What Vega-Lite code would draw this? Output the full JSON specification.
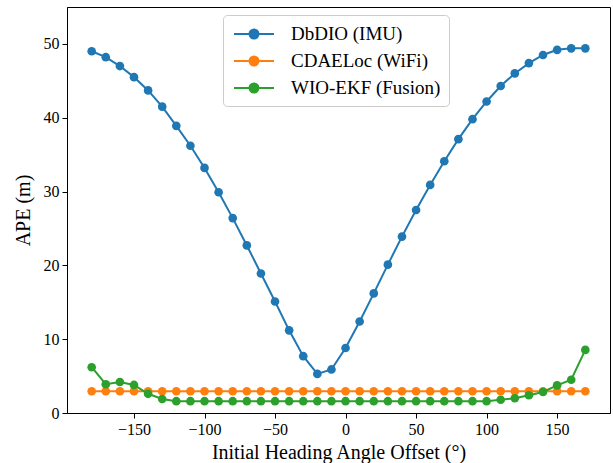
{
  "$schema": "https://vega.github.io/schema/vega-lite/v6.json",
  "width": 543,
  "height": 406,
  "autosize": "none",
  "padding": {"left": 67, "top": 7, "right": 3, "bottom": 50},
  "background": "white",
  "config": {
    "view": {"stroke": "black", "strokeWidth": 1},
    "font": "Liberation Serif",
    "legend": {"labelFont": "Liberation Serif"},
    "axis": {
      "grid": false,
      "labelFont": "Liberation Serif",
      "titleFont": "Liberation Serif",
      "labelFontSize": 16,
      "titleFontSize": 20,
      "titleFontWeight": "normal",
      "labelColor": "black",
      "titleColor": "black",
      "tickColor": "black",
      "domainColor": "black",
      "tickSize": 5,
      "labelPadding": 3
    }
  },
  "data": {
    "values": [
      {"angle": -180, "series": "DbDIO (IMU)", "ape": 49.0},
      {"angle": -170, "series": "DbDIO (IMU)", "ape": 48.2},
      {"angle": -160, "series": "DbDIO (IMU)", "ape": 47.0},
      {"angle": -150, "series": "DbDIO (IMU)", "ape": 45.5},
      {"angle": -140, "series": "DbDIO (IMU)", "ape": 43.7},
      {"angle": -130, "series": "DbDIO (IMU)", "ape": 41.5},
      {"angle": -120, "series": "DbDIO (IMU)", "ape": 38.9},
      {"angle": -110, "series": "DbDIO (IMU)", "ape": 36.2},
      {"angle": -100, "series": "DbDIO (IMU)", "ape": 33.2},
      {"angle": -90, "series": "DbDIO (IMU)", "ape": 29.9},
      {"angle": -80, "series": "DbDIO (IMU)", "ape": 26.4},
      {"angle": -70, "series": "DbDIO (IMU)", "ape": 22.7},
      {"angle": -60, "series": "DbDIO (IMU)", "ape": 18.9},
      {"angle": -50, "series": "DbDIO (IMU)", "ape": 15.1},
      {"angle": -40, "series": "DbDIO (IMU)", "ape": 11.2},
      {"angle": -30, "series": "DbDIO (IMU)", "ape": 7.7},
      {"angle": -20, "series": "DbDIO (IMU)", "ape": 5.3},
      {"angle": -10, "series": "DbDIO (IMU)", "ape": 5.9},
      {"angle": 0, "series": "DbDIO (IMU)", "ape": 8.8},
      {"angle": 10, "series": "DbDIO (IMU)", "ape": 12.4},
      {"angle": 20, "series": "DbDIO (IMU)", "ape": 16.2},
      {"angle": 30, "series": "DbDIO (IMU)", "ape": 20.1},
      {"angle": 40, "series": "DbDIO (IMU)", "ape": 23.9},
      {"angle": 50, "series": "DbDIO (IMU)", "ape": 27.5},
      {"angle": 60, "series": "DbDIO (IMU)", "ape": 30.9},
      {"angle": 70, "series": "DbDIO (IMU)", "ape": 34.1},
      {"angle": 80, "series": "DbDIO (IMU)", "ape": 37.1},
      {"angle": 90, "series": "DbDIO (IMU)", "ape": 39.8},
      {"angle": 100, "series": "DbDIO (IMU)", "ape": 42.2},
      {"angle": 110, "series": "DbDIO (IMU)", "ape": 44.3},
      {"angle": 120, "series": "DbDIO (IMU)", "ape": 46.0},
      {"angle": 130, "series": "DbDIO (IMU)", "ape": 47.4},
      {"angle": 140, "series": "DbDIO (IMU)", "ape": 48.5},
      {"angle": 150, "series": "DbDIO (IMU)", "ape": 49.2},
      {"angle": 160, "series": "DbDIO (IMU)", "ape": 49.4},
      {"angle": 170, "series": "DbDIO (IMU)", "ape": 49.4},
      {"angle": -180, "series": "CDAELoc (WiFi)", "ape": 2.95},
      {"angle": -170, "series": "CDAELoc (WiFi)", "ape": 2.95},
      {"angle": -160, "series": "CDAELoc (WiFi)", "ape": 2.95},
      {"angle": -150, "series": "CDAELoc (WiFi)", "ape": 2.95},
      {"angle": -140, "series": "CDAELoc (WiFi)", "ape": 2.95},
      {"angle": -130, "series": "CDAELoc (WiFi)", "ape": 2.95},
      {"angle": -120, "series": "CDAELoc (WiFi)", "ape": 2.95},
      {"angle": -110, "series": "CDAELoc (WiFi)", "ape": 2.95},
      {"angle": -100, "series": "CDAELoc (WiFi)", "ape": 2.95},
      {"angle": -90, "series": "CDAELoc (WiFi)", "ape": 2.95},
      {"angle": -80, "series": "CDAELoc (WiFi)", "ape": 2.95},
      {"angle": -70, "series": "CDAELoc (WiFi)", "ape": 2.95},
      {"angle": -60, "series": "CDAELoc (WiFi)", "ape": 2.95},
      {"angle": -50, "series": "CDAELoc (WiFi)", "ape": 2.95},
      {"angle": -40, "series": "CDAELoc (WiFi)", "ape": 2.95},
      {"angle": -30, "series": "CDAELoc (WiFi)", "ape": 2.95},
      {"angle": -20, "series": "CDAELoc (WiFi)", "ape": 2.95},
      {"angle": -10, "series": "CDAELoc (WiFi)", "ape": 2.95},
      {"angle": 0, "series": "CDAELoc (WiFi)", "ape": 2.95},
      {"angle": 10, "series": "CDAELoc (WiFi)", "ape": 2.95},
      {"angle": 20, "series": "CDAELoc (WiFi)", "ape": 2.95},
      {"angle": 30, "series": "CDAELoc (WiFi)", "ape": 2.95},
      {"angle": 40, "series": "CDAELoc (WiFi)", "ape": 2.95},
      {"angle": 50, "series": "CDAELoc (WiFi)", "ape": 2.95},
      {"angle": 60, "series": "CDAELoc (WiFi)", "ape": 2.95},
      {"angle": 70, "series": "CDAELoc (WiFi)", "ape": 2.95},
      {"angle": 80, "series": "CDAELoc (WiFi)", "ape": 2.95},
      {"angle": 90, "series": "CDAELoc (WiFi)", "ape": 2.95},
      {"angle": 100, "series": "CDAELoc (WiFi)", "ape": 2.95},
      {"angle": 110, "series": "CDAELoc (WiFi)", "ape": 2.95},
      {"angle": 120, "series": "CDAELoc (WiFi)", "ape": 2.95},
      {"angle": 130, "series": "CDAELoc (WiFi)", "ape": 2.95},
      {"angle": 140, "series": "CDAELoc (WiFi)", "ape": 2.95},
      {"angle": 150, "series": "CDAELoc (WiFi)", "ape": 2.95},
      {"angle": 160, "series": "CDAELoc (WiFi)", "ape": 2.95},
      {"angle": 170, "series": "CDAELoc (WiFi)", "ape": 2.95},
      {"angle": -180, "series": "WIO-EKF (Fusion)", "ape": 6.2},
      {"angle": -170, "series": "WIO-EKF (Fusion)", "ape": 3.9},
      {"angle": -160, "series": "WIO-EKF (Fusion)", "ape": 4.2},
      {"angle": -150, "series": "WIO-EKF (Fusion)", "ape": 3.8},
      {"angle": -140, "series": "WIO-EKF (Fusion)", "ape": 2.6},
      {"angle": -130, "series": "WIO-EKF (Fusion)", "ape": 1.9},
      {"angle": -120, "series": "WIO-EKF (Fusion)", "ape": 1.6},
      {"angle": -110, "series": "WIO-EKF (Fusion)", "ape": 1.6},
      {"angle": -100, "series": "WIO-EKF (Fusion)", "ape": 1.6},
      {"angle": -90, "series": "WIO-EKF (Fusion)", "ape": 1.6},
      {"angle": -80, "series": "WIO-EKF (Fusion)", "ape": 1.6},
      {"angle": -70, "series": "WIO-EKF (Fusion)", "ape": 1.6},
      {"angle": -60, "series": "WIO-EKF (Fusion)", "ape": 1.6},
      {"angle": -50, "series": "WIO-EKF (Fusion)", "ape": 1.6},
      {"angle": -40, "series": "WIO-EKF (Fusion)", "ape": 1.6},
      {"angle": -30, "series": "WIO-EKF (Fusion)", "ape": 1.6},
      {"angle": -20, "series": "WIO-EKF (Fusion)", "ape": 1.6},
      {"angle": -10, "series": "WIO-EKF (Fusion)", "ape": 1.6},
      {"angle": 0, "series": "WIO-EKF (Fusion)", "ape": 1.6},
      {"angle": 10, "series": "WIO-EKF (Fusion)", "ape": 1.6},
      {"angle": 20, "series": "WIO-EKF (Fusion)", "ape": 1.6},
      {"angle": 30, "series": "WIO-EKF (Fusion)", "ape": 1.6},
      {"angle": 40, "series": "WIO-EKF (Fusion)", "ape": 1.6},
      {"angle": 50, "series": "WIO-EKF (Fusion)", "ape": 1.6},
      {"angle": 60, "series": "WIO-EKF (Fusion)", "ape": 1.6},
      {"angle": 70, "series": "WIO-EKF (Fusion)", "ape": 1.6},
      {"angle": 80, "series": "WIO-EKF (Fusion)", "ape": 1.6},
      {"angle": 90, "series": "WIO-EKF (Fusion)", "ape": 1.6},
      {"angle": 100, "series": "WIO-EKF (Fusion)", "ape": 1.6},
      {"angle": 110, "series": "WIO-EKF (Fusion)", "ape": 1.8},
      {"angle": 120, "series": "WIO-EKF (Fusion)", "ape": 2.0},
      {"angle": 130, "series": "WIO-EKF (Fusion)", "ape": 2.4},
      {"angle": 140, "series": "WIO-EKF (Fusion)", "ape": 2.85},
      {"angle": 150, "series": "WIO-EKF (Fusion)", "ape": 3.75},
      {"angle": 160, "series": "WIO-EKF (Fusion)", "ape": 4.5},
      {"angle": 170, "series": "WIO-EKF (Fusion)", "ape": 8.55}
    ]
  },
  "encoding": {
    "x": {
      "field": "angle",
      "type": "quantitative",
      "scale": {"domain": [-197.5, 187.5], "nice": false, "zero": false},
      "axis": {"values": [-150, -100, -50, 0, 50, 100, 150], "title": "Initial Heading Angle Offset (°)", "titlePadding": 5}
    },
    "y": {
      "field": "ape",
      "type": "quantitative",
      "scale": {"domain": [0, 55], "nice": false},
      "axis": {"values": [0, 10, 20, 30, 40, 50], "title": "APE (m)", "titlePadding": 10}
    },
    "color": {
      "field": "series",
      "type": "nominal",
      "scale": {
        "domain": ["DbDIO (IMU)", "CDAELoc (WiFi)", "WIO-EKF (Fusion)"],
        "range": ["#1f77b4", "#ff7f0e", "#2ca02c"]
      },
      "legend": {
        "title": null,
        "orient": "none",
        "legendX": 156,
        "legendY": 8,
        "padding": 8,
        "strokeColor": "#cccccc",
        "fillColor": "rgba(255,255,255,0.8)",
        "cornerRadius": 4,
        "labelFont": "Liberation Serif",
        "labelFontSize": 19,
        "labelColor": "black",
        "labelOffset": 38,
        "symbolType": "M-0.8,0L3.2,0M0.75,0A0.45,0.45,0,1,1,1.65,0A0.45,0.45,0,1,1,0.75,0Z",
        "symbolSize": 400,
        "symbolStrokeWidth": 2,
        "symbolOpacity": 1,
        "rowPadding": 6,
        "encode": {
          "symbols": {
            "update": {
              "fill": {"scale": "color", "field": "value"},
              "stroke": {"scale": "color", "field": "value"},
              "fillOpacity": {"value": 1},
              "strokeOpacity": {"value": 1}
            }
          }
        }
      }
    }
  },
  "layer": [
    {
      "transform": [{"filter": "datum.series === 'DbDIO (IMU)'"}],
      "mark": {"type": "line", "strokeWidth": 2, "point": {"size": 75, "filled": true, "opacity": 1}}
    },
    {
      "transform": [{"filter": "datum.series === 'CDAELoc (WiFi)'"}],
      "mark": {"type": "line", "strokeWidth": 2, "point": {"size": 75, "filled": true, "opacity": 1}}
    },
    {
      "transform": [{"filter": "datum.series === 'WIO-EKF (Fusion)'"}],
      "mark": {"type": "line", "strokeWidth": 2, "point": {"size": 75, "filled": true, "opacity": 1}}
    }
  ]
}
